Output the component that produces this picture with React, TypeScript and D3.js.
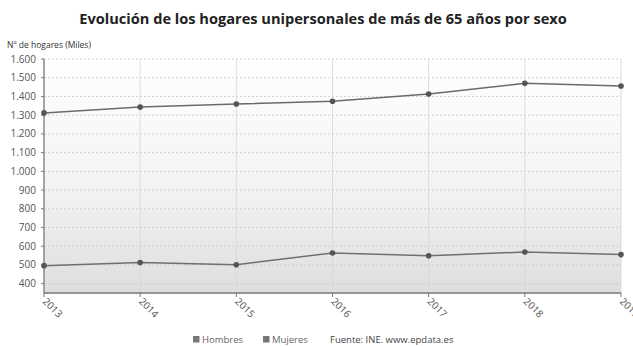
import React from "react";
import * as d3 from "d3";

const years = ["2013", "2014", "2015", "2016", "2017", "2018", "2019"];
const hombres = [496, 513, 501, 564, 549, 569, 555];
const mujeres = [1312, 1343, 1360, 1374, 1413, 1470, 1456];
const yTicks = [400, 500, 600, 700, 800, 900, 1000, 1100, 1200, 1300, 1400, 1500, 1600];

const W = 633;
const H = 346;
const margin = { left: 44, right: 12, top: 59, bottom: 53 };

const fmt = (v: number) => d3.format(",")(v).replace(/,/g, ".");

export default function App() {
  const x = d3
    .scalePoint<string>()
    .domain(years)
    .range([margin.left, W - margin.right]);
  const y = d3
    .scaleLinear()
    .domain([350, 1600])
    .range([H - margin.bottom, margin.top]);

  const line = d3
    .line<number>()
    .x((_, i) => x(years[i]) as number)
    .y((d) => y(d));

  const series = [
    { name: "Hombres", values: hombres, color: "#6f6f6f" },
    { name: "Mujeres", values: mujeres, color: "#6a6a6a" },
  ];

  const x0 = margin.left;
  const x1 = W - margin.right;
  const yTop = y(1600);
  const yBot = y(350);

  return (
    <svg
      width={W}
      height={H}
      style={{ position: "absolute", left: 0, top: 0, fontFamily: "'Open Sans', sans-serif" }}
    >
      <defs>
        <linearGradient id="plotBg" x1="0" y1="0" x2="0" y2="1">
          <stop offset="0%" stopColor="#ffffff" />
          <stop offset="55%" stopColor="#f3f3f3" />
          <stop offset="100%" stopColor="#dedede" />
        </linearGradient>
      </defs>
      <rect x={0} y={0} width={W} height={H} fill="#ffffff" />
      <text
        x={323}
        y={24}
        textAnchor="middle"
        fontSize={14.6}
        fontWeight={700}
        fill="#222"
      >
        Evolución de los hogares unipersonales de más de 65 años por sexo
      </text>
      <text x={7} y={48} fontSize={8.5} fill="#333">
        Nº de hogares (Miles)
      </text>

      <rect x={x0} y={yTop} width={x1 - x0} height={yBot - yTop} fill="url(#plotBg)" />

      {yTicks.map((t) => (
        <g key={t}>
          <line
            x1={x0}
            x2={x1}
            y1={y(t)}
            y2={y(t)}
            stroke="#c8c8c8"
            strokeWidth={0.8}
            strokeDasharray="2,2"
          />
          <line x1={x0 - 3} x2={x0} y1={y(t)} y2={y(t)} stroke="#777" strokeWidth={1} />
          <text
            x={x0 - 8}
            y={y(t)}
            dy="0.35em"
            textAnchor="end"
            fontSize={10}
            fill="#555"
          >
            {fmt(t)}
          </text>
        </g>
      ))}

      {years.map((yr) => (
        <g key={yr}>
          <line
            x1={x(yr)}
            x2={x(yr)}
            y1={yTop}
            y2={yBot}
            stroke="#d6d6d6"
            strokeWidth={0.8}
          />
          <line x1={x(yr)} x2={x(yr)} y1={yBot} y2={yBot + 4} stroke="#777" strokeWidth={1} />
          <text
            transform={`translate(${(x(yr) as number) - 2},${yBot + 9}) rotate(45)`}
            fontSize={10}
            fill="#555"
          >
            {yr}
          </text>
        </g>
      ))}

      <line x1={x0} x2={x0} y1={yTop} y2={yBot} stroke="#777" strokeWidth={1.2} />
      <line x1={x0} x2={x1} y1={yBot} y2={yBot} stroke="#777" strokeWidth={1.5} />

      {series.map((s) => (
        <g key={s.name}>
          <path d={line(s.values) || ""} fill="none" stroke={s.color} strokeWidth={1.5} />
          {s.values.map((v, i) => (
            <circle key={i} cx={x(years[i])} cy={y(v)} r={2.8} fill="#555" />
          ))}
        </g>
      ))}

      <g fontSize={9.5} fill="#666">
        {series.map((s, i) => (
          <g key={s.name} transform={`translate(${193 + i * 70},${343})`}>
            <rect x={0} y={-7} width={6.5} height={6.5} fill="#777" />
            <text x={9} y={0}>
              {s.name}
            </text>
          </g>
        ))}
        <text x={330} y={343} fill="#444">
          Fuente: INE. www.epdata.es
        </text>
      </g>
    </svg>
  );
}
